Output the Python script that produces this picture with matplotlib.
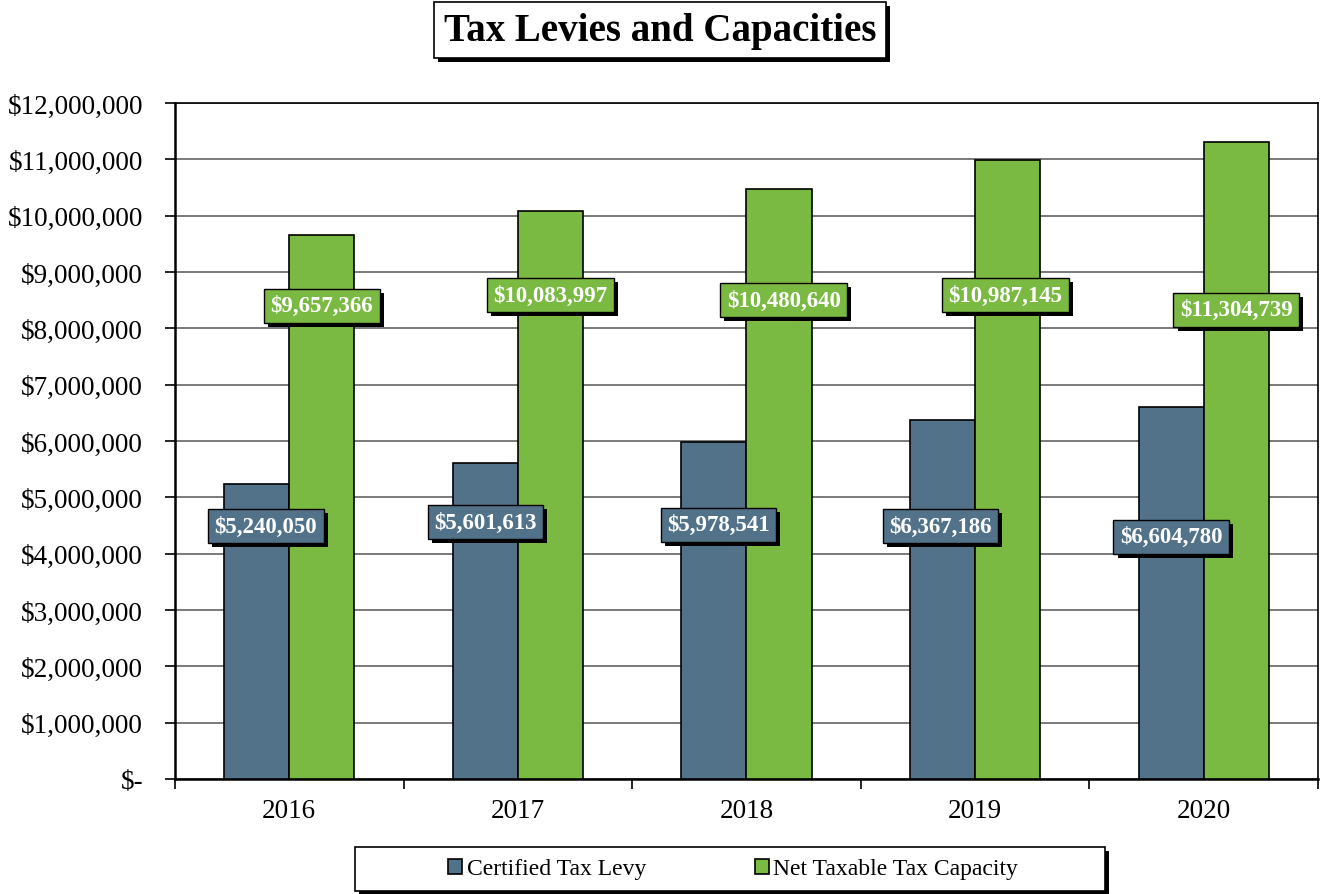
import matplotlib
matplotlib.use("Agg")
import matplotlib.pyplot as plt
import matplotlib.patheffects as pe
from matplotlib.patches import Rectangle
from matplotlib.ticker import FuncFormatter, MultipleLocator
import numpy as np

years = ["2016", "2017", "2018", "2019", "2020"]
certified_levy = [5240050, 5601613, 5978541, 6367186, 6604780]
net_capacity = [9657366, 10083997, 10480640, 10987145, 11304739]

# where each value label sits (data units), as placed on the chart
levy_label_y = [4.49e6, 4.56e6, 4.51e6, 4.49e6, 4.30e6]
levy_label_dx = [0.04, 0.0, 0.02, -0.01, 0.0]
capacity_label_y = [8.40e6, 8.59e6, 8.50e6, 8.59e6, 8.33e6]
capacity_label_dx = [0.0, 0.0, 0.02, -0.01, 0.0]

LEVY_COLOR = "#527289"
CAPACITY_COLOR = "#7ABA42"
SERIF = ["Liberation Serif", "DejaVu Serif"]

plt.rcParams["font.family"] = SERIF

fig = plt.figure(figsize=(13.23, 8.95), dpi=100)
ax = fig.add_axes([175 / 1323, 1 - 780 / 895, 1143 / 1323, 676 / 895])

x = np.arange(len(years))
width = 0.285
levy_bars = ax.bar(x - width / 2, certified_levy, width, color=LEVY_COLOR,
                   edgecolor="black", linewidth=1.2, zorder=3,
                   label="Certified Tax Levy")
cap_bars = ax.bar(x + width / 2, net_capacity, width, color=CAPACITY_COLOR,
                  edgecolor="black", linewidth=1.2, zorder=3,
                  label="Net Taxable Tax Capacity")

ax.set_xlim(-0.5, len(years) - 0.5)
ax.set_ylim(0, 12_000_000)
ax.yaxis.set_major_locator(MultipleLocator(1_000_000))


def money(v, _pos=None):
    if v == 0:
        return "$-"
    return f"${v:,.0f}"


ax.yaxis.set_major_formatter(FuncFormatter(money))
ax.grid(axis="y", color="#6f6f6f", linewidth=1.3, zorder=0)
ax.set_axisbelow(True)

ax.set_xticks(x)
ax.set_xticklabels(years)
ax.set_xticks(np.arange(-0.5, len(years)), minor=True)
ax.tick_params(axis="x", which="major", length=0, pad=14, labelsize=19.5)
ax.tick_params(axis="x", which="minor", length=7, width=1.2, direction="out")
ax.tick_params(axis="y", length=7, width=1.2, direction="out", pad=16,
               labelsize=19.5)
for side in ["left", "bottom"]:
    ax.spines[side].set_linewidth(1.8)
for side in ["right", "top"]:
    ax.spines[side].set_linewidth(1.2)

shadow = [pe.SimplePatchShadow(offset=(3, -3), shadow_rgbFace="black", alpha=1.0),
          pe.Normal()]


def value_label(xpos, ypos, value, color):
    t = ax.text(xpos, ypos, f"${value:,.0f}", ha="center", va="center",
                color="white", fontsize=16.5, fontweight="bold", zorder=5,
                bbox=dict(boxstyle="square,pad=0.28", facecolor=color,
                          edgecolor="black", linewidth=1.0))
    t.get_bbox_patch().set_path_effects(shadow)


for i in range(len(years)):
    value_label(x[i] - width / 2 + levy_label_dx[i], levy_label_y[i],
                certified_levy[i], LEVY_COLOR)
    value_label(x[i] + width / 2 + capacity_label_dx[i], capacity_label_y[i],
                net_capacity[i], CAPACITY_COLOR)

title = fig.text(660 / 1323, 1 - 31 / 895, "Tax Levies and Capacities",
                 ha="center", va="center", fontsize=28, fontweight="bold",
                 bbox=dict(boxstyle="square,pad=0.25", facecolor="white",
                           edgecolor="black", linewidth=1.2))
title.get_bbox_patch().set_path_effects(shadow)

# legend frame drawn by hand so it can be wider than its entries
frame = Rectangle((355 / 1323, 1 - 892 / 895), 750 / 1323, 44 / 895,
                  transform=fig.transFigure, facecolor="white",
                  edgecolor="black", linewidth=1.2)
frame.set_path_effects(shadow)
fig.patches.append(frame)
fig.legend(handles=[levy_bars, cap_bars], loc="center",
           bbox_to_anchor=(733 / 1323, 1 - 870 / 895), ncol=2, frameon=False,
           fontsize=17, handlelength=0.6, handleheight=0.6,
           handletextpad=0.2, columnspacing=4.6)

fig.savefig("out.png", dpi=100)
